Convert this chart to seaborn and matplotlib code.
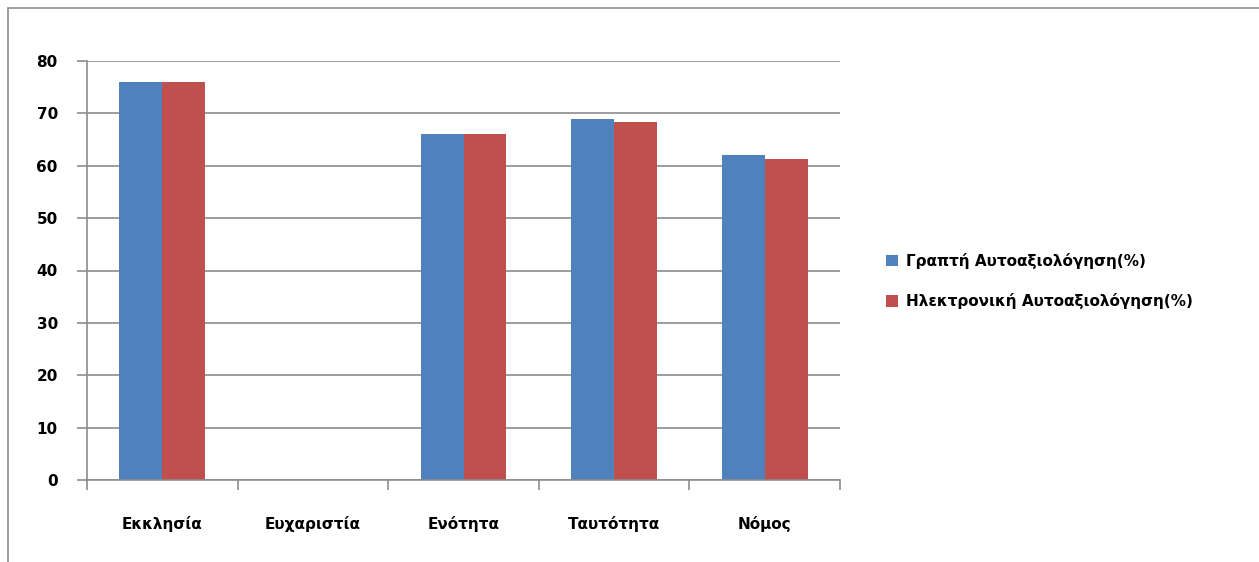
import numpy as np
import pandas as pd
import seaborn as sns
import matplotlib.pyplot as plt
from matplotlib.patches import Patch, Rectangle

categories = ['Εκκλησία', 'Ευχαριστία', 'Ενότητα', 'Ταυτότητα', 'Νόμος']
series_names = ['Γραπτή Αυτοαξιολόγηση(%)', 'Ηλεκτρονική Αυτοαξιολόγηση(%)']
written = [76, 0, 66, 69, 62]
electronic = [76, 0, 66, 68.3, 61.3]
colors = ['#4F81BD', '#C0504D']

df = pd.DataFrame({
    'category': categories * 2,
    'series': [series_names[0]] * len(categories) + [series_names[1]] * len(categories),
    'value': written + electronic,
})

sns.set_style('white')
plt.rcParams['font.family'] = ['DejaVu Sans']
plt.rcParams['text.color'] = 'black'

fig = plt.figure(figsize=(12.59, 5.62), dpi=100)
ax = fig.add_axes([87 / 1259, 82 / 562, 753 / 1259, 419 / 562])

sns.barplot(data=df, x='category', y='value', hue='series', palette=colors,
            width=0.57, saturation=1, legend=False, linewidth=0, ax=ax)

ax.set_ylim(0, 80)
ax.set_xlim(-0.5, len(categories) - 0.5)
ax.set_yticks(np.arange(0, 81, 10))
ax.yaxis.grid(True, color='#8c8c8c', linewidth=1.2)
ax.set_axisbelow(True)
ax.set_xlabel('')
ax.set_ylabel('')

# category boundary ticks like Excel
ax.set_xticks(np.arange(len(categories)))
ax.set_xticklabels(categories, fontsize=11, fontweight='bold')
ax.set_xticks(np.arange(-0.5, len(categories)), minor=True)
ax.tick_params(axis='x', which='major', length=0, pad=26, labelcolor='black')
ax.tick_params(axis='x', which='minor', bottom=True, length=7, color='#8c8c8c', width=1.2)
ax.tick_params(axis='y', left=True, length=7, color='#8c8c8c', width=1.2,
               labelsize=11, pad=14, labelcolor='black')
for lbl in ax.get_yticklabels():
    lbl.set_fontweight('bold')

for side in ['top', 'right']:
    ax.spines[side].set_visible(False)
for side in ['left', 'bottom']:
    ax.spines[side].set_color('#8c8c8c')
    ax.spines[side].set_linewidth(1.2)

handles = [Patch(facecolor=c, edgecolor='none') for c in colors]
leg = fig.legend(handles, series_names, loc='center left', bbox_to_anchor=(872 / 1259, 0.5),
                 frameon=False, prop={'weight': 'bold', 'size': 11},
                 handlelength=0.8, handleheight=0.8, labelspacing=1.6, handletextpad=0.5)
for t in leg.get_texts():
    t.set_color('black')

fig.patches.append(Rectangle((8 / 1259, -0.05), 1, 1.05 - 8 / 562, transform=fig.transFigure,
                             fill=False, edgecolor='#8c8c8c', linewidth=1.2))

fig.savefig('out.png', dpi=100)
plt.close()
